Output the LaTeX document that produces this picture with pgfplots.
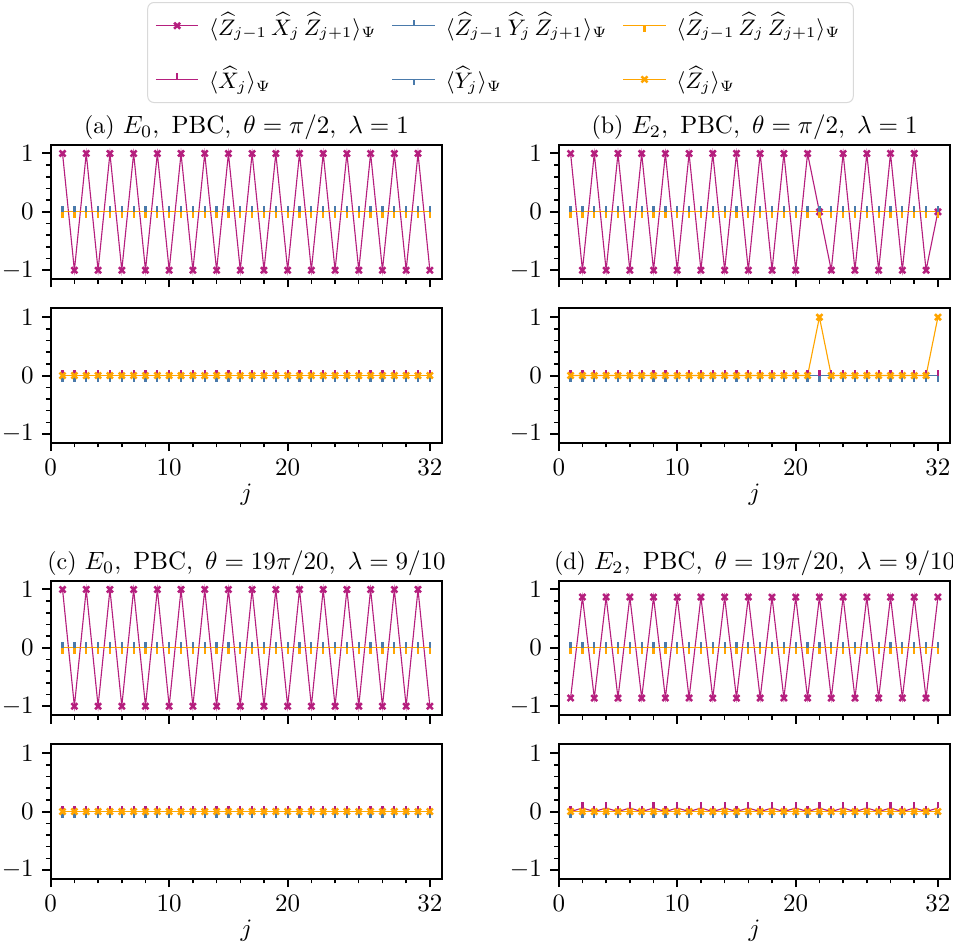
\documentclass[border=0pt]{standalone}
\usepackage{pgfplots}
\pgfplotsset{compat=1.18}
\usepackage{pgfplotstable}

\definecolor{cM}{HTML}{B51F7E}
\definecolor{cB}{HTML}{4A7AAB}
\definecolor{cO}{HTML}{FFA500}

\pgfdeclareplotmark{tickup}{\pgfpathmoveto{\pgfpointorigin}\pgfpathlineto{\pgfpoint{0pt}{2\pgfplotmarksize}}\pgfusepathqstroke}
\pgfdeclareplotmark{tickdown}{\pgfpathmoveto{\pgfpointorigin}\pgfpathlineto{\pgfpoint{0pt}{-2\pgfplotmarksize}}\pgfusepathqstroke}
\pgfdeclareplotmark{Xf}{%
  \pgfpathmoveto{\pgfpoint{-\pgfplotmarksize}{-\pgfplotmarksize}}\pgfpathlineto{\pgfpoint{\pgfplotmarksize}{\pgfplotmarksize}}%
  \pgfpathmoveto{\pgfpoint{-\pgfplotmarksize}{\pgfplotmarksize}}\pgfpathlineto{\pgfpoint{\pgfplotmarksize}{-\pgfplotmarksize}}%
  \pgfusepathqstroke}

\pgfplotstableread{
j zxz zyz zzz x y z
1 1 0 0 0 0 0
2 -1 0 0 0 0 0
3 1 0 0 0 0 0
4 -1 0 0 0 0 0
5 1 0 0 0 0 0
6 -1 0 0 0 0 0
7 1 0 0 0 0 0
8 -1 0 0 0 0 0
9 1 0 0 0 0 0
10 -1 0 0 0 0 0
11 1 0 0 0 0 0
12 -1 0 0 0 0 0
13 1 0 0 0 0 0
14 -1 0 0 0 0 0
15 1 0 0 0 0 0
16 -1 0 0 0 0 0
17 1 0 0 0 0 0
18 -1 0 0 0 0 0
19 1 0 0 0 0 0
20 -1 0 0 0 0 0
21 1 0 0 0 0 0
22 -1 0 0 0 0 0
23 1 0 0 0 0 0
24 -1 0 0 0 0 0
25 1 0 0 0 0 0
26 -1 0 0 0 0 0
27 1 0 0 0 0 0
28 -1 0 0 0 0 0
29 1 0 0 0 0 0
30 -1 0 0 0 0 0
31 1 0 0 0 0 0
32 -1 0 0 0 0 0
}\tabA

\pgfplotstableread{
j zxz zyz zzz x y z
1 1 0 0 0 0 0
2 -1 0 0 0 0 0
3 1 0 0 0 0 0
4 -1 0 0 0 0 0
5 1 0 0 0 0 0
6 -1 0 0 0 0 0
7 1 0 0 0 0 0
8 -1 0 0 0 0 0
9 1 0 0 0 0 0
10 -1 0 0 0 0 0
11 1 0 0 0 0 0
12 -1 0 0 0 0 0
13 1 0 0 0 0 0
14 -1 0 0 0 0 0
15 1 0 0 0 0 0
16 -1 0 0 0 0 0
17 1 0 0 0 0 0
18 -1 0 0 0 0 0
19 1 0 0 0 0 0
20 -1 0 0 0 0 0
21 1 0 0 0 0 0
22 0 0 0 0 0 1
23 -1 0 0 0 0 0
24 1 0 0 0 0 0
25 -1 0 0 0 0 0
26 1 0 0 0 0 0
27 -1 0 0 0 0 0
28 1 0 0 0 0 0
29 -1 0 0 0 0 0
30 1 0 0 0 0 0
31 -1 0 0 0 0 0
32 0 0 0 0 0 1
}\tabB

\pgfplotstableread{
j zxz zyz zzz x y z
1 1 0 0 0 0 0
2 -1 0 0 0 0 0
3 1 0 0 0 0 0
4 -1 0 0 0 0 0
5 1 0 0 0 0 0
6 -1 0 0 0 0 0
7 1 0 0 0 0 0
8 -1 0 0 0 0 0
9 1 0 0 0 0 0
10 -1 0 0 0 0 0
11 1 0 0 0 0 0
12 -1 0 0 0 0 0
13 1 0 0 0 0 0
14 -1 0 0 0 0 0
15 1 0 0 0 0 0
16 -1 0 0 0 0 0
17 1 0 0 0 0 0
18 -1 0 0 0 0 0
19 1 0 0 0 0 0
20 -1 0 0 0 0 0
21 1 0 0 0 0 0
22 -1 0 0 0 0 0
23 1 0 0 0 0 0
24 -1 0 0 0 0 0
25 1 0 0 0 0 0
26 -1 0 0 0 0 0
27 1 0 0 0 0 0
28 -1 0 0 0 0 0
29 1 0 0 0 0 0
30 -1 0 0 0 0 0
31 1 0 0 0 0 0
32 -1 0 0 0 0 0
}\tabC

\pgfplotstableread{
j zxz zyz zzz x y z
1 -0.86 0 0 0 0 0
2 0.87 0 0 0.06 0 0
3 -0.86 0 0 0 0 0
4 0.87 0 0 0.06 0 0
5 -0.86 0 0 0 0 0
6 0.87 0 0 0.06 0 0
7 -0.86 0 0 0 0 0
8 0.87 0 0 0.06 0 0
9 -0.86 0 0 0 0 0
10 0.87 0 0 0.06 0 0
11 -0.86 0 0 0 0 0
12 0.87 0 0 0.06 0 0
13 -0.86 0 0 0 0 0
14 0.87 0 0 0.06 0 0
15 -0.86 0 0 0 0 0
16 0.87 0 0 0.06 0 0
17 -0.86 0 0 0 0 0
18 0.87 0 0 0.06 0 0
19 -0.86 0 0 0 0 0
20 0.87 0 0 0.06 0 0
21 -0.86 0 0 0 0 0
22 0.87 0 0 0.06 0 0
23 -0.86 0 0 0 0 0
24 0.87 0 0 0.06 0 0
25 -0.86 0 0 0 0 0
26 0.87 0 0 0.06 0 0
27 -0.86 0 0 0 0 0
28 0.87 0 0 0.06 0 0
29 -0.86 0 0 0 0 0
30 0.87 0 0 0.06 0 0
31 -0.86 0 0 0 0 0
32 0.87 0 0 0.06 0 0
}\tabD

\pgfplotsset{
  panel/.style={
    scale only axis, width=156.64pt, height=53.72pt,
    xmin=0, xmax=33.05, ymin=-1.15, ymax=1.15,
    xtick={0,10,20,32}, minor xtick={2,4,6,8,12,14,16,18,22,24,26,28,30},
    ytick={-1,0,1}, minor ytick={-0.8,-0.6,-0.4,-0.2,0.2,0.4,0.6,0.8},
    tick align=outside, xtick pos=left, ytick pos=left,
    major tick length=3.4pt, minor tick length=1.9pt,
    major tick style={black,line width=0.77pt},
    minor tick style={black,line width=0.58pt},
    axis line style={line width=0.77pt},
    every axis plot/.append style={line width=0.45pt},
    title style={yshift=-7.6pt},
    xlabel style={yshift=3.5pt},
    clip=false,
  },
  toppanel/.style={panel, xticklabels={}},
  botpanel/.style={panel, xlabel={$j$}},
  sZXZ/.style={cM, mark=Xf, mark size=1.2pt, mark options={line width=1.0pt}},
  sZYZ/.style={cB, mark=tickup, mark size=1.2pt, mark options={line width=0.9pt}},
  sZZZ/.style={cO, mark=tickdown, mark size=1.2pt, mark options={line width=0.9pt}},
  sX/.style={cM, mark=tickup, mark size=1.2pt, mark options={line width=0.9pt}},
  sY/.style={cB, mark=tickdown, mark size=1.2pt, mark options={line width=0.9pt}},
  sZ/.style={cO, mark=Xf, mark size=1.2pt, mark options={line width=1.0pt}},
}

\begin{document}
\fontsize{9.6pt}{11.5pt}\selectfont
\begin{tikzpicture}
\useasboundingbox (0,0) rectangle (381.2pt,-380pt);

% ---------- (a) ----------
\begin{axis}[toppanel, at={(20.28pt,-111.6pt)}, anchor=south west,
  title={(a)\ $E_0,\ \mathrm{PBC},\ \theta=\pi/2,\ \lambda=1$},
  legend columns=3, legend cell align=left,
  legend image post style={line width=0.45pt},
  legend style={at={(1.1486,2.0625)}, anchor=north, draw=black!15, rounded corners=2.5pt,
    font=\fontsize{9pt}{10pt}\selectfont, row sep=7pt, inner ysep=2pt, inner xsep=3pt,
    /tikz/every odd column/.append style={column sep=2pt},
    /tikz/every even column/.append style={column sep=4pt}}]
\addplot[sZXZ] table[x=j,y=zxz]{\tabA};
\addlegendentry{$\langle\widehat{Z}_{j-1}\,\widehat{X}_j\,\widehat{Z}_{j+1}\rangle_\Psi$}
\addplot[sZYZ] table[x=j,y=zyz]{\tabA};
\addlegendentry{$\langle\widehat{Z}_{j-1}\,\widehat{Y}_j\,\widehat{Z}_{j+1}\rangle_\Psi$}
\addplot[sZZZ] table[x=j,y=zzz]{\tabA};
\addlegendentry{$\langle\widehat{Z}_{j-1}\,\widehat{Z}_j\,\widehat{Z}_{j+1}\rangle_\Psi$}
\addlegendimage{sX}
\addlegendentry{$\langle\widehat{X}_j\rangle_\Psi$}
\addlegendimage{sY}
\addlegendentry{$\langle\widehat{Y}_j\rangle_\Psi$}
\addlegendimage{sZ}
\addlegendentry{$\langle\widehat{Z}_j\rangle_\Psi$}
\end{axis}
\begin{axis}[botpanel, at={(20.28pt,-177.08pt)}, anchor=south west]
\addplot[sX] table[x=j,y=x]{\tabA};
\addplot[sY] table[x=j,y=y]{\tabA};
\addplot[sZ] table[x=j,y=z]{\tabA};
\end{axis}

% ---------- (b) ----------
\begin{axis}[toppanel, at={(223.5pt,-111.6pt)}, anchor=south west,
  title={(b)\ $E_2,\ \mathrm{PBC},\ \theta=\pi/2,\ \lambda=1$}]
\addplot[sZXZ] table[x=j,y=zxz]{\tabB};
\addplot[sZYZ] table[x=j,y=zyz]{\tabB};
\addplot[sZZZ] table[x=j,y=zzz]{\tabB};
\end{axis}
\begin{axis}[botpanel, at={(223.5pt,-177.08pt)}, anchor=south west]
\addplot[sX] table[x=j,y=x]{\tabB};
\addplot[sY] table[x=j,y=y]{\tabB};
\addplot[sZ] table[x=j,y=z]{\tabB};
\end{axis}

% ---------- (c) ----------
\begin{axis}[toppanel, at={(20.28pt,-286pt)}, anchor=south west,
  title={(c)\ $E_0,\ \mathrm{PBC},\ \theta=19\pi/20,\ \lambda=9/10$}]
\addplot[sZXZ] table[x=j,y=zxz]{\tabC};
\addplot[sZYZ] table[x=j,y=zyz]{\tabC};
\addplot[sZZZ] table[x=j,y=zzz]{\tabC};
\end{axis}
\begin{axis}[botpanel, at={(20.28pt,-351.48pt)}, anchor=south west]
\addplot[sX] table[x=j,y=x]{\tabC};
\addplot[sY] table[x=j,y=y]{\tabC};
\addplot[sZ] table[x=j,y=z]{\tabC};
\end{axis}

% ---------- (d) ----------
\begin{axis}[toppanel, at={(223.5pt,-286pt)}, anchor=south west,
  title={(d)\ $E_2,\ \mathrm{PBC},\ \theta=19\pi/20,\ \lambda=9/10$}]
\addplot[sZXZ] table[x=j,y=zxz]{\tabD};
\addplot[sZYZ] table[x=j,y=zyz]{\tabD};
\addplot[sZZZ] table[x=j,y=zzz]{\tabD};
\end{axis}
\begin{axis}[botpanel, at={(223.5pt,-351.48pt)}, anchor=south west]
\addplot[sX] table[x=j,y=x]{\tabD};
\addplot[sY] table[x=j,y=y]{\tabD};
\addplot[sZ] table[x=j,y=z]{\tabD};
\end{axis}
\end{tikzpicture}
\end{document}
